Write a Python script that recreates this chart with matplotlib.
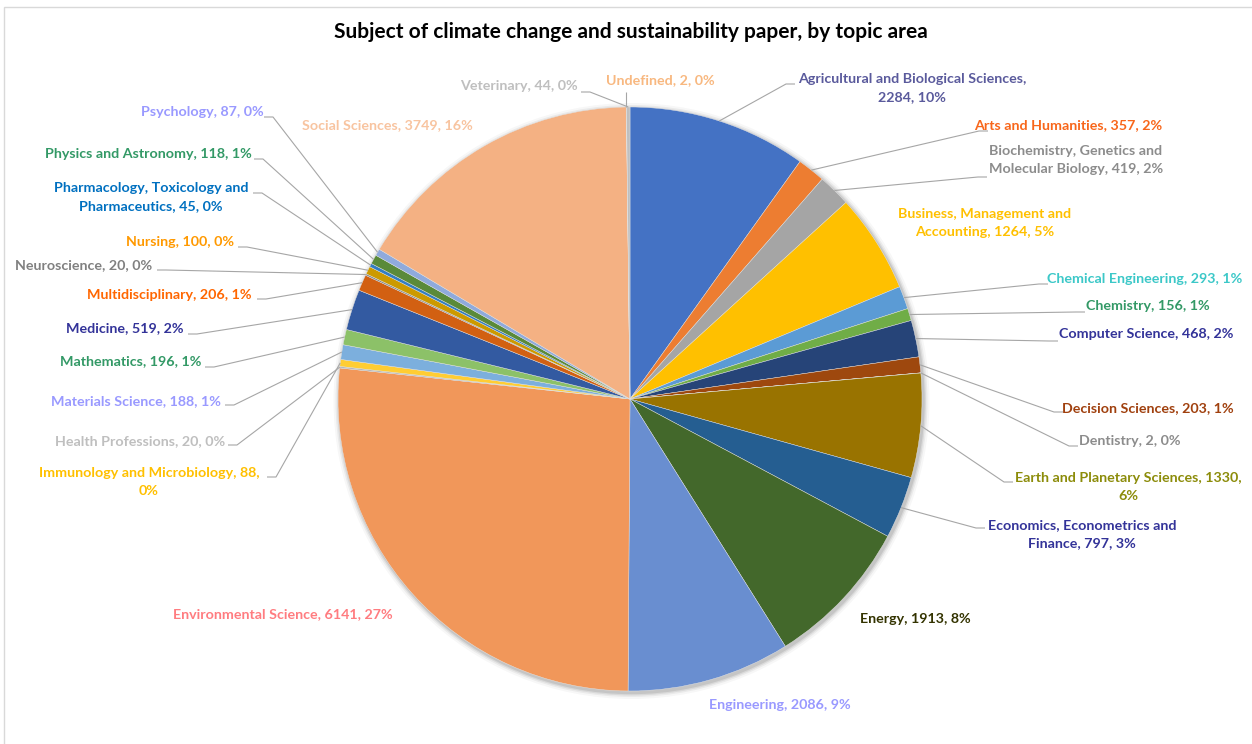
import matplotlib
matplotlib.use("Agg")
import matplotlib.pyplot as plt
from matplotlib.patches import Circle, Rectangle
import numpy as np

# ---------------- data ----------------
categories = [
    "Agricultural and Biological Sciences", "Arts and Humanities",
    "Biochemistry, Genetics and Molecular Biology", "Business, Management and Accounting",
    "Chemical Engineering", "Chemistry", "Computer Science", "Decision Sciences",
    "Dentistry", "Earth and Planetary Sciences", "Economics, Econometrics and Finance",
    "Energy", "Engineering", "Environmental Science", "Health Professions",
    "Immunology and Microbiology", "Materials Science", "Mathematics", "Medicine",
    "Multidisciplinary", "Neuroscience", "Nursing",
    "Pharmacology, Toxicology and Pharmaceutics", "Physics and Astronomy",
    "Psychology", "Social Sciences", "Undefined", "Veterinary",
]
papers = [2284, 357, 419, 1264, 293, 156, 468, 203, 2, 1330, 797, 1913, 2086, 6141,
          20, 88, 188, 196, 519, 206, 20, 100, 45, 118, 87, 3749, 2, 44]
title = "Subject of climate change and sustainability paper, by topic area"

# ---------------- styles ----------------
slice_colors = [
    "#4472C4", "#ED7D31", "#A5A5A5", "#FFC000", "#5B9BD5", "#70AD47",
    "#264478", "#9E480E", "#636363", "#997300", "#255E91", "#43682B",
    "#698ED0", "#F1975A", "#B7B7B7", "#FFCD33", "#7CAFDD", "#8CC168",
    "#335AA1", "#D26012", "#848484", "#CC9A00", "#327DC2", "#5A8A39",
    "#8FAADC", "#F4B183", "#C9C9C9", "#BFBFBF",
]
label_colors = [
    "#5A5A9C", "#F8661A", "#8C8C8C", "#FFC000", "#3CC8C8", "#339966",
    "#333399", "#A0400E", "#8C8C8C", "#8C8C0A", "#333399", "#333300",
    "#9999FF", "#FF7C80", "#BFBFBF", "#FFC000", "#9999FF", "#339966",
    "#333399", "#FF6600", "#808080", "#FF9900", "#0070C0", "#339966",
    "#9999FF", "#F8C4A0", "#F8B880", "#BFBFBF",
]
# where multi-line labels wrap
wraps = {
    "Agricultural and Biological Sciences": ("Sciences, ", "Sciences,\n"),
    "Biochemistry, Genetics and Molecular Biology": ("and ", "and\n"),
    "Business, Management and Accounting": ("and ", "and\n"),
    "Earth and Planetary Sciences": ("1330, ", "1330,\n"),
    "Economics, Econometrics and Finance": ("and ", "and\n"),
    "Pharmacology, Toxicology and Pharmaceutics": ("and ", "and\n"),
    "Immunology and Microbiology": ("88, ", "88,\n"),
}
# label layout in pixel coords: (text centre x, centre y, leader attach x, attach y or None)
layout = [
    (912, 88, 795, 84), (1068, 125, 988, 131), (1076, 160, 987, 177),
    (985, 223, None, None), (1145, 279, 1048, 284), (1148, 306, 1085, 312),
    (1146, 334, 1058, 341), (1148, 408, 1063, 412), (1130, 441, 1078, 446),
    (1128, 487, 1013, 482), (1082, 534, 985, 528), (915, 619, None, None),
    (780, 705, None, None), (283, 614, None, None), (140, 441, 228, 445),
    (149, 482, 267, 477), (136, 401, 225, 405), (131, 361, 205, 367),
    (125, 328, 188, 334), (169, 295, 257, 299), (84, 265, 157, 270),
    (180, 242, 238, 247), (151, 197, 253, 193), (148, 154, 254, 159),
    (202, 112, 264, 117), (387, 125, None, None), (660, 80, "vert", 92),
    (519, 86, 581, 92),
]

W, H = 1252, 744
FONT = "Lato"

def Y(py):
    return H - py

fig = plt.figure(figsize=(W / 100, H / 100), dpi=100)
ax = fig.add_axes([0, 0, 1, 1])

cx, cy, R = 630, Y(399), 292

# soft shadow
for dr, a in [(6, 0.03), (4, 0.05), (2.5, 0.07), (1.2, 0.09)]:
    ax.add_patch(Circle((cx + 1.5, cy - 2), R + dr, color="black", alpha=a, lw=0, zorder=1))

wedges, _ = ax.pie(papers, colors=slice_colors, startangle=90, counterclock=False,
                   center=(cx, cy), radius=R, frame=True,
                   wedgeprops=dict(linewidth=0.3, edgecolor="#E6E6E6"))
for w in wedges:
    w.set_zorder(2)
ax.set_xlim(0, W)
ax.set_ylim(0, H)
ax.set_aspect("equal")
ax.axis("off")

# chart border
ax.add_patch(Rectangle((4, Y(H + 20)), W + 20, H + 13, fill=False,
                       edgecolor="#D9D9D9", lw=1.0))

total = sum(papers)
for i, (name, v) in enumerate(zip(categories, papers)):
    pct = round(100 * v / total)
    txt = f"{name}, {v}, {pct}%"
    if name in wraps:
        a, b = wraps[name]
        txt = txt.replace(a, b, 1)
    tx, ty, axx, ayy = layout[i]
    ax.text(tx, Y(ty), txt, ha="center", va="center", fontsize=10.3,
            fontweight="bold", color=label_colors[i], family=FONT,
            linespacing=1.65, zorder=5)
    if axx is None:
        continue
    w = wedges[i]
    mid = np.deg2rad((w.theta1 + w.theta2) / 2)
    ex, ey = cx + R * np.cos(mid), cy + R * np.sin(mid)
    if axx == "vert":
        xs, ys = [ex, ex], [ey, Y(ayy)]
    else:
        stub = -9 if axx > cx else 9
        xs = [ex, axx + stub, axx]
        ys = [ey, Y(ayy), Y(ayy)]
    ax.plot(xs, ys, color="#A6A6A6", lw=0.8, zorder=3, solid_capstyle="butt")

ax.text(631, Y(32), title, ha="center", va="center", fontsize=15,
        fontweight="bold", family=FONT, color="black")

fig.savefig("out.png", dpi=100)
